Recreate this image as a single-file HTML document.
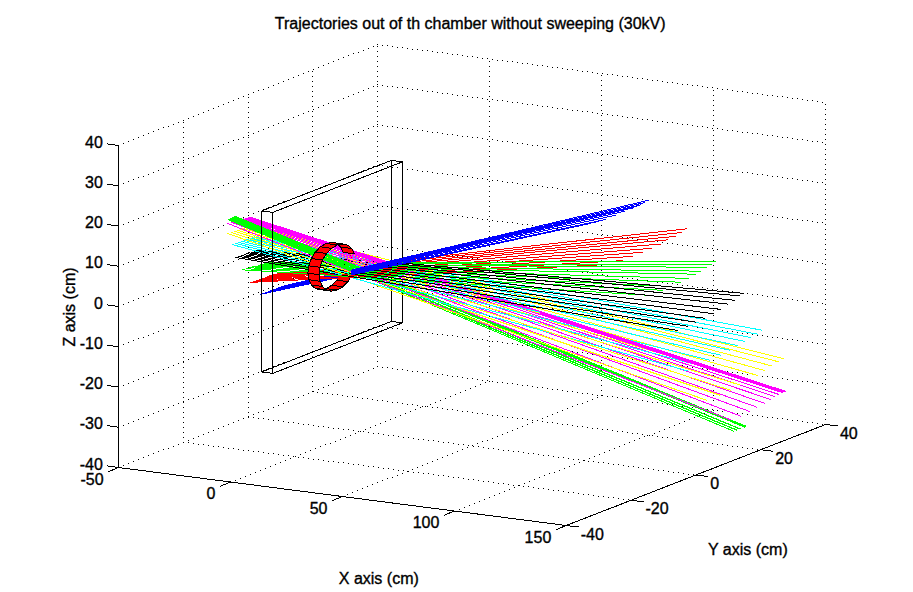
<!DOCTYPE html>
<html><head><meta charset="utf-8"><title>Trajectories</title>
<style>
html,body{margin:0;padding:0;background:#fff;}
body{width:913px;height:592px;overflow:hidden;}
svg{display:block;}
.dots{stroke:#000;stroke-width:1;fill:none;shape-rendering:crispEdges;}
.ax line{stroke:#000;stroke-width:1;shape-rendering:crispEdges;}
.tr line{stroke-width:1;shape-rendering:crispEdges;}
.ring polygon{fill:#ff0000;stroke:#000;stroke-width:1;shape-rendering:crispEdges;stroke-linejoin:round;}
.tx text{font-family:"Liberation Sans",sans-serif;font-size:16px;fill:#000;stroke:#000;stroke-width:0.35px;}
</style></head><body>
<svg width="913" height="592" viewBox="0 0 913 592">
<rect width="913" height="592" fill="#fff"/>
<g>
<g class="grid">
<path class="dots" d="M118 145.5h1M118 147.5h1M118 152.5h1M118 157.5h1M118 162.5h1M118 167.5h1M118 172.5h1M118 177.5h1M118 182.5h1M118 185.5h1M118 187.5h1M118 192.5h1M118 197.5h1M118 202.5h1M118 207.5h1M118 212.5h1M118 217.5h1M118 222.5h1M118 225.5h1M118 227.5h1M118 232.5h1M118 237.5h1M118 242.5h1M118 247.5h1M118 252.5h1M118 257.5h1M118 262.5h1M118 266.5h1M118 267.5h1M118 272.5h1M118 277.5h1M118 282.5h1M118 287.5h1M118 292.5h1M118 297.5h1M118 302.5h1M118 306.5h1M118 307.5h1M118 312.5h1M118 317.5h1M118 322.5h1M118 327.5h1M118 332.5h1M118 337.5h1M118 342.5h1M118 346.5h1M118 347.5h1M118 352.5h1M118 357.5h1M118 362.5h1M118 367.5h1M118 372.5h1M118 377.5h1M118 382.5h1M118 387.5h1M118 392.5h1M118 397.5h1M118 402.5h1M118 407.5h1M118 412.5h1M118 417.5h1M118 422.5h1M118 427.5h1M118 432.5h1M118 437.5h1M118 442.5h1M118 447.5h1M118 452.5h1M118 457.5h1M118 462.5h1M118 467.5h1M123 143.5h1M123 183.5h1M123 224.5h1M123 264.5h1M123 304.5h1M123 344.5h1M123 385.5h1M123 425.5h1M123 465.5h1M123 468.5h1M128 141.5h1M128 181.5h1M128 222.5h1M128 262.5h1M128 302.5h1M128 342.5h1M128 383.5h1M128 423.5h1M128 463.5h1M128 468.5h1M133 139.5h1M133 179.5h1M133 220.5h1M133 260.5h1M133 300.5h1M133 340.5h1M133 381.5h1M133 421.5h1M133 461.5h1M133 469.5h1M138 137.5h1M138 177.5h1M138 218.5h1M138 258.5h1M138 298.5h1M138 338.5h1M138 379.5h1M138 419.5h1M138 459.5h1M138 470.5h1M143 135.5h1M143 176.5h1M143 216.5h1M143 256.5h1M143 296.5h1M143 337.5h1M143 377.5h1M143 417.5h1M143 457.5h1M143 470.5h1M148 133.5h1M148 174.5h1M148 214.5h1M148 254.5h1M148 294.5h1M148 335.5h1M148 375.5h1M148 415.5h1M148 455.5h1M148 471.5h1M153 131.5h1M153 172.5h1M153 212.5h1M153 252.5h1M153 292.5h1M153 333.5h1M153 373.5h1M153 413.5h1M153 453.5h1M153 472.5h1M158 129.5h1M158 170.5h1M158 210.5h1M158 250.5h1M158 290.5h1M158 331.5h1M158 371.5h1M158 411.5h1M158 451.5h1M158 472.5h1M163 127.5h1M163 168.5h1M163 208.5h1M163 248.5h1M163 288.5h1M163 329.5h1M163 369.5h1M163 409.5h1M163 449.5h1M163 473.5h1M168 126.5h1M168 166.5h1M168 206.5h1M168 246.5h1M168 287.5h1M168 327.5h1M168 367.5h1M168 407.5h1M168 448.5h1M168 473.5h1M173 124.5h1M173 164.5h1M173 204.5h1M173 244.5h1M173 285.5h1M173 325.5h1M173 365.5h1M173 405.5h1M173 446.5h1M173 474.5h1M178 122.5h1M178 162.5h1M178 202.5h1M178 242.5h1M178 283.5h1M178 323.5h1M178 363.5h1M178 403.5h1M178 444.5h1M178 475.5h1M183 120.5h1M183 122.5h1M183 127.5h1M183 132.5h1M183 137.5h1M183 142.5h1M183 147.5h1M183 152.5h1M183 157.5h1M183 160.5h1M183 162.5h1M183 167.5h1M183 172.5h1M183 177.5h1M183 182.5h1M183 187.5h1M183 192.5h1M183 197.5h1M183 200.5h1M183 202.5h1M183 207.5h1M183 212.5h1M183 217.5h1M183 222.5h1M183 227.5h1M183 232.5h1M183 237.5h1M183 240.5h1M183 242.5h1M183 247.5h1M183 252.5h1M183 257.5h1M183 262.5h1M183 267.5h1M183 272.5h1M183 277.5h1M183 281.5h1M183 282.5h1M183 287.5h1M183 292.5h1M183 297.5h1M183 302.5h1M183 307.5h1M183 312.5h1M183 317.5h1M183 321.5h1M183 322.5h1M183 327.5h1M183 332.5h1M183 337.5h1M183 342.5h1M183 347.5h1M183 352.5h1M183 357.5h1M183 361.5h1M183 362.5h1M183 367.5h1M183 372.5h1M183 377.5h1M183 382.5h1M183 387.5h1M183 392.5h1M183 397.5h1M183 401.5h1M183 402.5h1M183 407.5h1M183 412.5h1M183 417.5h1M183 422.5h1M183 427.5h1M183 432.5h1M183 437.5h1M183 442.5h1M183 475.5h1M188 118.5h1M188 158.5h1M188 198.5h1M188 238.5h1M188 279.5h1M188 319.5h1M188 359.5h1M188 399.5h1M188 440.5h1M188 442.5h1M188 476.5h1M193 116.5h1M193 156.5h1M193 196.5h1M193 237.5h1M193 277.5h1M193 317.5h1M193 357.5h1M193 398.5h1M193 438.5h1M193 443.5h1M193 477.5h1M198 114.5h1M198 154.5h1M198 194.5h1M198 235.5h1M198 275.5h1M198 315.5h1M198 355.5h1M198 396.5h1M198 436.5h1M198 444.5h1M198 477.5h1M203 112.5h1M203 152.5h1M203 192.5h1M203 233.5h1M203 273.5h1M203 313.5h1M203 353.5h1M203 394.5h1M203 434.5h1M203 444.5h1M203 478.5h1M208 110.5h1M208 150.5h1M208 190.5h1M208 231.5h1M208 271.5h1M208 311.5h1M208 351.5h1M208 392.5h1M208 432.5h1M208 445.5h1M208 479.5h1M213 108.5h1M213 148.5h1M213 188.5h1M213 229.5h1M213 269.5h1M213 309.5h1M213 349.5h1M213 390.5h1M213 430.5h1M213 446.5h1M213 479.5h1M218 106.5h1M218 146.5h1M218 187.5h1M218 227.5h1M218 267.5h1M218 307.5h1M218 348.5h1M218 388.5h1M218 428.5h1M218 446.5h1M218 480.5h1M223 104.5h1M223 144.5h1M223 185.5h1M223 225.5h1M223 265.5h1M223 305.5h1M223 346.5h1M223 386.5h1M223 426.5h1M223 447.5h1M223 481.5h1M228 102.5h1M228 142.5h1M228 183.5h1M228 223.5h1M228 263.5h1M228 303.5h1M228 344.5h1M228 384.5h1M228 424.5h1M228 448.5h1M228 481.5h1M230 482.5h1M233 100.5h1M233 140.5h1M233 181.5h1M233 221.5h1M233 261.5h1M233 301.5h1M233 342.5h1M233 382.5h1M233 422.5h1M233 448.5h1M233 482.5h1M235 480.5h1M238 98.5h1M238 139.5h1M238 179.5h1M238 219.5h1M238 259.5h1M238 300.5h1M238 340.5h1M238 380.5h1M238 420.5h1M238 449.5h1M238 483.5h1M240 478.5h1M243 96.5h1M243 137.5h1M243 177.5h1M243 217.5h1M243 257.5h1M243 298.5h1M243 338.5h1M243 378.5h1M243 418.5h1M243 450.5h1M243 483.5h1M245 476.5h1M248 94.5h1M248 97.5h1M248 102.5h1M248 107.5h1M248 112.5h1M248 117.5h1M248 122.5h1M248 127.5h1M248 132.5h1M248 135.5h1M248 137.5h1M248 142.5h1M248 147.5h1M248 152.5h1M248 157.5h1M248 162.5h1M248 167.5h1M248 172.5h1M248 175.5h1M248 177.5h1M248 182.5h1M248 187.5h1M248 192.5h1M248 197.5h1M248 202.5h1M248 207.5h1M248 212.5h1M248 215.5h1M248 217.5h1M248 222.5h1M248 227.5h1M248 232.5h1M248 237.5h1M248 242.5h1M248 247.5h1M248 252.5h1M248 255.5h1M248 257.5h1M248 262.5h1M248 267.5h1M248 272.5h1M248 277.5h1M248 282.5h1M248 287.5h1M248 292.5h1M248 296.5h1M248 297.5h1M248 302.5h1M248 307.5h1M248 312.5h1M248 317.5h1M248 322.5h1M248 327.5h1M248 332.5h1M248 336.5h1M248 337.5h1M248 342.5h1M248 347.5h1M248 352.5h1M248 357.5h1M248 362.5h1M248 367.5h1M248 372.5h1M248 376.5h1M248 377.5h1M248 382.5h1M248 387.5h1M248 392.5h1M248 397.5h1M248 402.5h1M248 407.5h1M248 412.5h1M248 416.5h1M248 417.5h1M248 450.5h1M248 484.5h1M250 474.5h1M253 92.5h1M253 133.5h1M253 173.5h1M253 213.5h1M253 253.5h1M253 294.5h1M253 334.5h1M253 374.5h1M253 414.5h1M253 417.5h1M253 451.5h1M253 484.5h1M255 472.5h1M258 90.5h1M258 131.5h1M258 171.5h1M258 211.5h1M258 251.5h1M258 292.5h1M258 332.5h1M258 372.5h1M258 412.5h1M258 418.5h1M258 451.5h1M258 485.5h1M260 470.5h1M263 89.5h1M263 129.5h1M263 169.5h1M263 209.5h1M263 250.5h1M263 290.5h1M263 330.5h1M263 370.5h1M263 411.5h1M263 418.5h1M263 452.5h1M263 486.5h1M265 468.5h1M268 87.5h1M268 127.5h1M268 167.5h1M268 207.5h1M268 248.5h1M268 288.5h1M268 328.5h1M268 368.5h1M268 409.5h1M268 419.5h1M268 453.5h1M268 486.5h1M270 466.5h1M273 85.5h1M273 125.5h1M273 165.5h1M273 205.5h1M273 246.5h1M273 286.5h1M273 326.5h1M273 366.5h1M273 407.5h1M273 420.5h1M273 453.5h1M273 487.5h1M275 464.5h1M278 83.5h1M278 123.5h1M278 163.5h1M278 203.5h1M278 244.5h1M278 284.5h1M278 324.5h1M278 364.5h1M278 405.5h1M278 420.5h1M278 454.5h1M278 488.5h1M280 462.5h1M283 81.5h1M283 121.5h1M283 161.5h1M283 201.5h1M283 242.5h1M283 282.5h1M283 322.5h1M283 362.5h1M283 403.5h1M283 421.5h1M283 455.5h1M283 488.5h1M285 460.5h1M288 79.5h1M288 119.5h1M288 159.5h1M288 200.5h1M288 240.5h1M288 280.5h1M288 320.5h1M288 361.5h1M288 401.5h1M288 422.5h1M288 455.5h1M288 489.5h1M290 458.5h1M293 77.5h1M293 117.5h1M293 157.5h1M293 198.5h1M293 238.5h1M293 278.5h1M293 318.5h1M293 359.5h1M293 399.5h1M293 422.5h1M293 456.5h1M293 490.5h1M295 456.5h1M298 75.5h1M298 115.5h1M298 155.5h1M298 196.5h1M298 236.5h1M298 276.5h1M298 316.5h1M298 357.5h1M298 397.5h1M298 423.5h1M298 457.5h1M298 490.5h1M300 454.5h1M303 73.5h1M303 113.5h1M303 153.5h1M303 194.5h1M303 234.5h1M303 274.5h1M303 314.5h1M303 355.5h1M303 395.5h1M303 424.5h1M303 457.5h1M303 491.5h1M305 452.5h1M308 71.5h1M308 111.5h1M308 151.5h1M308 192.5h1M308 232.5h1M308 272.5h1M308 312.5h1M308 353.5h1M308 393.5h1M308 424.5h1M308 458.5h1M308 492.5h1M310 450.5h1M312 71.5h1M312 76.5h1M312 81.5h1M312 86.5h1M312 91.5h1M312 96.5h1M312 101.5h1M312 106.5h1M312 111.5h1M312 116.5h1M312 121.5h1M312 126.5h1M312 131.5h1M312 136.5h1M312 141.5h1M312 146.5h1M312 151.5h1M312 156.5h1M312 161.5h1M312 166.5h1M312 171.5h1M312 176.5h1M312 181.5h1M312 186.5h1M312 191.5h1M312 196.5h1M312 201.5h1M312 206.5h1M312 211.5h1M312 216.5h1M312 221.5h1M312 226.5h1M312 231.5h1M312 236.5h1M312 241.5h1M312 246.5h1M312 251.5h1M312 256.5h1M312 261.5h1M312 266.5h1M312 271.5h1M312 276.5h1M312 281.5h1M312 286.5h1M312 291.5h1M312 296.5h1M312 301.5h1M312 306.5h1M312 311.5h1M312 316.5h1M312 321.5h1M312 326.5h1M312 331.5h1M312 336.5h1M312 341.5h1M312 346.5h1M312 351.5h1M312 356.5h1M312 361.5h1M312 366.5h1M312 371.5h1M312 376.5h1M312 381.5h1M312 386.5h1M312 391.5h1M313 69.5h1M313 109.5h1M313 150.5h1M313 190.5h1M313 230.5h1M313 270.5h1M313 311.5h1M313 351.5h1M313 391.5h1M313 425.5h1M313 459.5h1M313 492.5h1M315 448.5h1M317 392.5h1M318 67.5h1M318 107.5h1M318 148.5h1M318 188.5h1M318 228.5h1M318 268.5h1M318 309.5h1M318 349.5h1M318 389.5h1M318 426.5h1M318 459.5h1M318 493.5h1M320 446.5h1M322 393.5h1M323 65.5h1M323 105.5h1M323 146.5h1M323 186.5h1M323 226.5h1M323 266.5h1M323 307.5h1M323 347.5h1M323 387.5h1M323 426.5h1M323 460.5h1M323 494.5h1M325 444.5h1M327 393.5h1M328 63.5h1M328 103.5h1M328 144.5h1M328 184.5h1M328 224.5h1M328 264.5h1M328 305.5h1M328 345.5h1M328 385.5h1M328 427.5h1M328 461.5h1M328 494.5h1M330 443.5h1M332 394.5h1M333 61.5h1M333 101.5h1M333 142.5h1M333 182.5h1M333 222.5h1M333 262.5h1M333 303.5h1M333 343.5h1M333 383.5h1M333 428.5h1M333 461.5h1M333 495.5h1M335 441.5h1M337 394.5h1M338 59.5h1M338 100.5h1M338 140.5h1M338 180.5h1M338 220.5h1M338 261.5h1M338 301.5h1M338 341.5h1M338 381.5h1M338 428.5h1M338 462.5h1M338 496.5h1M340 439.5h1M342 395.5h1M342 496.5h1M343 57.5h1M343 98.5h1M343 138.5h1M343 178.5h1M343 218.5h1M343 259.5h1M343 299.5h1M343 339.5h1M343 379.5h1M343 429.5h1M343 462.5h1M343 496.5h1M345 437.5h1M347 396.5h1M347 494.5h1M348 55.5h1M348 96.5h1M348 136.5h1M348 176.5h1M348 216.5h1M348 257.5h1M348 297.5h1M348 337.5h1M348 377.5h1M348 429.5h1M348 463.5h1M348 497.5h1M350 435.5h1M352 396.5h1M352 492.5h1M353 53.5h1M353 94.5h1M353 134.5h1M353 174.5h1M353 214.5h1M353 255.5h1M353 295.5h1M353 335.5h1M353 375.5h1M353 430.5h1M353 464.5h1M353 497.5h1M355 433.5h1M357 397.5h1M357 490.5h1M358 52.5h1M358 92.5h1M358 132.5h1M358 172.5h1M358 213.5h1M358 253.5h1M358 293.5h1M358 333.5h1M358 374.5h1M358 431.5h1M358 464.5h1M358 498.5h1M360 431.5h1M362 398.5h1M362 488.5h1M363 50.5h1M363 90.5h1M363 130.5h1M363 170.5h1M363 211.5h1M363 251.5h1M363 291.5h1M363 331.5h1M363 372.5h1M363 431.5h1M363 465.5h1M363 499.5h1M365 429.5h1M367 398.5h1M367 486.5h1M368 48.5h1M368 88.5h1M368 128.5h1M368 168.5h1M368 209.5h1M368 249.5h1M368 289.5h1M368 329.5h1M368 370.5h1M368 432.5h1M368 466.5h1M368 499.5h1M370 427.5h1M372 399.5h1M372 484.5h1M373 46.5h1M373 86.5h1M373 126.5h1M373 166.5h1M373 207.5h1M373 247.5h1M373 287.5h1M373 327.5h1M373 368.5h1M373 433.5h1M373 466.5h1M373 500.5h1M375 425.5h1M377 44.5h1M377 46.5h1M377 51.5h1M377 56.5h1M377 61.5h1M377 66.5h1M377 71.5h1M377 76.5h1M377 81.5h1M377 84.5h1M377 86.5h1M377 91.5h1M377 96.5h1M377 101.5h1M377 106.5h1M377 111.5h1M377 116.5h1M377 121.5h1M377 124.5h1M377 126.5h1M377 131.5h1M377 136.5h1M377 141.5h1M377 146.5h1M377 151.5h1M377 156.5h1M377 161.5h1M377 165.5h1M377 166.5h1M377 171.5h1M377 176.5h1M377 181.5h1M377 186.5h1M377 191.5h1M377 196.5h1M377 201.5h1M377 205.5h1M377 206.5h1M377 211.5h1M377 216.5h1M377 221.5h1M377 226.5h1M377 231.5h1M377 236.5h1M377 241.5h1M377 245.5h1M377 246.5h1M377 251.5h1M377 256.5h1M377 261.5h1M377 266.5h1M377 271.5h1M377 276.5h1M377 281.5h1M377 286.5h1M377 291.5h1M377 296.5h1M377 301.5h1M377 306.5h1M377 311.5h1M377 316.5h1M377 321.5h1M377 326.5h1M377 331.5h1M377 336.5h1M377 341.5h1M377 346.5h1M377 351.5h1M377 356.5h1M377 361.5h1M377 366.5h1M377 400.5h1M377 482.5h1M378 433.5h1M378 467.5h1M378 501.5h1M380 423.5h1M382 45.5h1M382 85.5h1M382 125.5h1M382 165.5h1M382 206.5h1M382 246.5h1M382 286.5h1M382 326.5h1M382 367.5h1M382 400.5h1M382 480.5h1M383 434.5h1M383 468.5h1M383 501.5h1M385 421.5h1M387 45.5h1M387 86.5h1M387 126.5h1M387 166.5h1M387 206.5h1M387 247.5h1M387 287.5h1M387 327.5h1M387 367.5h1M387 401.5h1M387 478.5h1M388 435.5h1M388 468.5h1M388 502.5h1M390 419.5h1M392 46.5h1M392 86.5h1M392 126.5h1M392 167.5h1M392 207.5h1M392 247.5h1M392 287.5h1M392 328.5h1M392 368.5h1M392 402.5h1M392 477.5h1M393 435.5h1M393 469.5h1M393 503.5h1M395 417.5h1M397 47.5h1M397 87.5h1M397 127.5h1M397 167.5h1M397 208.5h1M397 248.5h1M397 288.5h1M397 328.5h1M397 369.5h1M397 402.5h1M397 475.5h1M398 436.5h1M398 470.5h1M398 503.5h1M400 415.5h1M402 47.5h1M402 87.5h1M402 128.5h1M402 168.5h1M402 208.5h1M402 248.5h1M402 289.5h1M402 329.5h1M402 369.5h1M402 403.5h1M402 473.5h1M403 437.5h1M403 470.5h1M403 504.5h1M405 413.5h1M407 48.5h1M407 88.5h1M407 128.5h1M407 169.5h1M407 209.5h1M407 249.5h1M407 289.5h1M407 330.5h1M407 370.5h1M407 404.5h1M407 471.5h1M408 437.5h1M408 471.5h1M408 505.5h1M410 411.5h1M412 49.5h1M412 89.5h1M412 129.5h1M412 169.5h1M412 210.5h1M412 250.5h1M412 290.5h1M412 330.5h1M412 371.5h1M412 404.5h1M412 469.5h1M413 438.5h1M413 472.5h1M413 505.5h1M415 409.5h1M417 49.5h1M417 89.5h1M417 130.5h1M417 170.5h1M417 210.5h1M417 250.5h1M417 291.5h1M417 331.5h1M417 371.5h1M417 405.5h1M417 467.5h1M418 439.5h1M418 472.5h1M418 506.5h1M420 407.5h1M422 50.5h1M422 90.5h1M422 130.5h1M422 171.5h1M422 211.5h1M422 251.5h1M422 291.5h1M422 332.5h1M422 372.5h1M422 406.5h1M422 465.5h1M423 439.5h1M423 473.5h1M423 507.5h1M425 406.5h1M427 50.5h1M427 91.5h1M427 131.5h1M427 171.5h1M427 211.5h1M427 252.5h1M427 292.5h1M427 332.5h1M427 372.5h1M427 406.5h1M427 463.5h1M428 440.5h1M428 473.5h1M428 507.5h1M430 404.5h1M432 51.5h1M432 91.5h1M432 132.5h1M432 172.5h1M432 212.5h1M432 252.5h1M432 293.5h1M432 333.5h1M432 373.5h1M432 407.5h1M432 461.5h1M433 440.5h1M433 474.5h1M433 508.5h1M435 402.5h1M437 52.5h1M437 92.5h1M437 132.5h1M437 173.5h1M437 213.5h1M437 253.5h1M437 293.5h1M437 334.5h1M437 374.5h1M437 407.5h1M437 459.5h1M438 441.5h1M438 475.5h1M438 508.5h1M440 400.5h1M442 52.5h1M442 93.5h1M442 133.5h1M442 173.5h1M442 213.5h1M442 254.5h1M442 294.5h1M442 334.5h1M442 374.5h1M442 408.5h1M442 457.5h1M443 442.5h1M443 475.5h1M443 509.5h1M445 398.5h1M447 53.5h1M447 93.5h1M447 134.5h1M447 174.5h1M447 214.5h1M447 254.5h1M447 295.5h1M447 335.5h1M447 375.5h1M447 409.5h1M447 455.5h1M448 442.5h1M448 476.5h1M448 510.5h1M450 396.5h1M452 54.5h1M452 94.5h1M452 134.5h1M452 174.5h1M452 215.5h1M452 255.5h1M452 295.5h1M452 335.5h1M452 376.5h1M452 409.5h1M452 453.5h1M453 443.5h1M453 477.5h1M453 510.5h1M454 511.5h1M455 394.5h1M457 54.5h1M457 95.5h1M457 135.5h1M457 175.5h1M457 215.5h1M457 256.5h1M457 296.5h1M457 336.5h1M457 376.5h1M457 410.5h1M457 451.5h1M458 444.5h1M458 477.5h1M458 511.5h1M459 509.5h1M460 392.5h1M462 55.5h1M462 95.5h1M462 136.5h1M462 176.5h1M462 216.5h1M462 256.5h1M462 297.5h1M462 337.5h1M462 377.5h1M462 411.5h1M462 449.5h1M463 444.5h1M463 478.5h1M463 512.5h1M464 507.5h1M465 390.5h1M467 56.5h1M467 96.5h1M467 136.5h1M467 176.5h1M467 217.5h1M467 257.5h1M467 297.5h1M467 337.5h1M467 378.5h1M467 411.5h1M467 447.5h1M468 445.5h1M468 479.5h1M468 512.5h1M469 505.5h1M470 388.5h1M472 56.5h1M472 97.5h1M472 137.5h1M472 177.5h1M472 217.5h1M472 258.5h1M472 298.5h1M472 338.5h1M472 378.5h1M472 412.5h1M472 445.5h1M473 446.5h1M473 479.5h1M473 513.5h1M474 503.5h1M475 386.5h1M477 57.5h1M477 97.5h1M477 137.5h1M477 178.5h1M477 218.5h1M477 258.5h1M477 298.5h1M477 339.5h1M477 379.5h1M477 413.5h1M477 443.5h1M478 446.5h1M478 480.5h1M478 514.5h1M479 501.5h1M480 384.5h1M482 58.5h1M482 98.5h1M482 138.5h1M482 178.5h1M482 219.5h1M482 259.5h1M482 299.5h1M482 339.5h1M482 380.5h1M482 413.5h1M482 441.5h1M483 447.5h1M483 481.5h1M483 514.5h1M484 499.5h1M485 382.5h1M487 58.5h1M487 99.5h1M487 139.5h1M487 179.5h1M487 219.5h1M487 260.5h1M487 300.5h1M487 340.5h1M487 380.5h1M487 414.5h1M487 440.5h1M488 448.5h1M488 481.5h1M488 515.5h1M489 61.5h1M489 66.5h1M489 71.5h1M489 76.5h1M489 81.5h1M489 86.5h1M489 91.5h1M489 96.5h1M489 101.5h1M489 106.5h1M489 111.5h1M489 116.5h1M489 121.5h1M489 126.5h1M489 131.5h1M489 136.5h1M489 141.5h1M489 146.5h1M489 151.5h1M489 156.5h1M489 161.5h1M489 166.5h1M489 171.5h1M489 176.5h1M489 181.5h1M489 186.5h1M489 191.5h1M489 196.5h1M489 201.5h1M489 206.5h1M489 211.5h1M489 216.5h1M489 221.5h1M489 226.5h1M489 231.5h1M489 236.5h1M489 241.5h1M489 246.5h1M489 251.5h1M489 256.5h1M489 261.5h1M489 266.5h1M489 271.5h1M489 276.5h1M489 281.5h1M489 286.5h1M489 291.5h1M489 296.5h1M489 301.5h1M489 306.5h1M489 311.5h1M489 316.5h1M489 321.5h1M489 326.5h1M489 331.5h1M489 336.5h1M489 341.5h1M489 346.5h1M489 351.5h1M489 356.5h1M489 361.5h1M489 366.5h1M489 371.5h1M489 376.5h1M489 381.5h1M489 497.5h1M492 59.5h1M492 99.5h1M492 139.5h1M492 180.5h1M492 220.5h1M492 260.5h1M492 300.5h1M492 341.5h1M492 381.5h1M492 415.5h1M492 438.5h1M493 448.5h1M493 482.5h1M493 516.5h1M494 495.5h1M497 60.5h1M497 100.5h1M497 140.5h1M497 180.5h1M497 221.5h1M497 261.5h1M497 301.5h1M497 341.5h1M497 382.5h1M497 415.5h1M497 436.5h1M498 449.5h1M498 483.5h1M498 516.5h1M499 493.5h1M502 60.5h1M502 100.5h1M502 141.5h1M502 181.5h1M502 221.5h1M502 261.5h1M502 302.5h1M502 342.5h1M502 382.5h1M502 416.5h1M502 434.5h1M503 450.5h1M503 483.5h1M503 517.5h1M504 491.5h1M507 61.5h1M507 101.5h1M507 141.5h1M507 182.5h1M507 222.5h1M507 262.5h1M507 302.5h1M507 343.5h1M507 383.5h1M507 417.5h1M507 432.5h1M508 450.5h1M508 484.5h1M508 518.5h1M509 489.5h1M512 61.5h1M512 102.5h1M512 142.5h1M512 182.5h1M512 222.5h1M512 263.5h1M512 303.5h1M512 343.5h1M512 383.5h1M512 417.5h1M512 430.5h1M513 451.5h1M513 485.5h1M513 518.5h1M514 487.5h1M517 62.5h1M517 102.5h1M517 143.5h1M517 183.5h1M517 223.5h1M517 263.5h1M517 304.5h1M517 344.5h1M517 384.5h1M517 418.5h1M517 428.5h1M518 451.5h1M518 485.5h1M518 519.5h1M519 485.5h1M522 63.5h1M522 103.5h1M522 143.5h1M522 184.5h1M522 224.5h1M522 264.5h1M522 304.5h1M522 345.5h1M522 385.5h1M522 418.5h1M522 426.5h1M523 452.5h1M523 486.5h1M523 519.5h1M524 483.5h1M527 63.5h1M527 104.5h1M527 144.5h1M527 184.5h1M527 224.5h1M527 265.5h1M527 305.5h1M527 345.5h1M527 385.5h1M527 419.5h1M527 424.5h1M528 453.5h1M528 486.5h1M528 520.5h1M529 481.5h1M532 64.5h1M532 104.5h1M532 145.5h1M532 185.5h1M532 225.5h1M532 265.5h1M532 306.5h1M532 346.5h1M532 386.5h1M532 420.5h1M532 422.5h1M533 453.5h1M533 487.5h1M533 521.5h1M534 479.5h1M537 65.5h1M537 105.5h1M537 145.5h1M537 185.5h1M537 226.5h1M537 266.5h1M537 306.5h1M537 346.5h1M537 387.5h1M537 420.5h1M538 454.5h1M538 488.5h1M538 521.5h1M539 477.5h1M542 65.5h1M542 106.5h1M542 146.5h1M542 186.5h1M542 226.5h1M542 267.5h1M542 307.5h1M542 347.5h1M542 387.5h1M542 418.5h1M542 421.5h1M543 455.5h1M543 488.5h1M543 522.5h1M544 475.5h1M547 66.5h1M547 106.5h1M547 147.5h1M547 187.5h1M547 227.5h1M547 267.5h1M547 308.5h1M547 348.5h1M547 388.5h1M547 416.5h1M547 422.5h1M548 455.5h1M548 489.5h1M548 523.5h1M549 473.5h1M552 67.5h1M552 107.5h1M552 147.5h1M552 187.5h1M552 228.5h1M552 268.5h1M552 308.5h1M552 348.5h1M552 389.5h1M552 414.5h1M552 422.5h1M553 456.5h1M553 490.5h1M553 523.5h1M554 472.5h1M557 67.5h1M557 108.5h1M557 148.5h1M557 188.5h1M557 228.5h1M557 269.5h1M557 309.5h1M557 349.5h1M557 389.5h1M557 412.5h1M557 423.5h1M558 457.5h1M558 490.5h1M558 524.5h1M559 470.5h1M562 68.5h1M562 108.5h1M562 148.5h1M562 189.5h1M562 229.5h1M562 269.5h1M562 309.5h1M562 350.5h1M562 390.5h1M562 410.5h1M562 424.5h1M563 457.5h1M563 491.5h1M563 525.5h1M564 468.5h1M566 525.5h1M567 69.5h1M567 109.5h1M567 149.5h1M567 189.5h1M567 230.5h1M567 270.5h1M567 310.5h1M567 350.5h1M567 391.5h1M567 408.5h1M567 424.5h1M568 458.5h1M568 492.5h1M569 466.5h1M571 523.5h1M572 69.5h1M572 110.5h1M572 150.5h1M572 190.5h1M572 230.5h1M572 271.5h1M572 311.5h1M572 351.5h1M572 391.5h1M572 406.5h1M572 425.5h1M573 459.5h1M573 492.5h1M574 464.5h1M576 521.5h1M577 70.5h1M577 110.5h1M577 150.5h1M577 191.5h1M577 231.5h1M577 271.5h1M577 311.5h1M577 352.5h1M577 392.5h1M577 404.5h1M577 426.5h1M578 459.5h1M578 493.5h1M579 462.5h1M581 519.5h1M582 71.5h1M582 111.5h1M582 151.5h1M582 191.5h1M582 232.5h1M582 272.5h1M582 312.5h1M582 352.5h1M582 393.5h1M582 403.5h1M582 426.5h1M583 460.5h1M583 494.5h1M584 460.5h1M586 517.5h1M587 71.5h1M587 111.5h1M587 152.5h1M587 192.5h1M587 232.5h1M587 272.5h1M587 313.5h1M587 353.5h1M587 393.5h1M587 401.5h1M587 427.5h1M588 461.5h1M588 494.5h1M589 458.5h1M591 515.5h1M592 72.5h1M592 112.5h1M592 152.5h1M592 193.5h1M592 233.5h1M592 273.5h1M592 313.5h1M592 354.5h1M592 394.5h1M592 399.5h1M592 428.5h1M593 461.5h1M593 495.5h1M594 456.5h1M596 513.5h1M597 73.5h1M597 113.5h1M597 153.5h1M597 193.5h1M597 234.5h1M597 274.5h1M597 314.5h1M597 354.5h1M597 395.5h1M597 397.5h1M597 428.5h1M598 462.5h1M598 496.5h1M599 454.5h1M601 75.5h1M601 80.5h1M601 85.5h1M601 90.5h1M601 95.5h1M601 100.5h1M601 105.5h1M601 110.5h1M601 115.5h1M601 120.5h1M601 125.5h1M601 130.5h1M601 135.5h1M601 140.5h1M601 145.5h1M601 150.5h1M601 155.5h1M601 160.5h1M601 165.5h1M601 170.5h1M601 175.5h1M601 180.5h1M601 185.5h1M601 190.5h1M601 195.5h1M601 200.5h1M601 205.5h1M601 210.5h1M601 215.5h1M601 220.5h1M601 225.5h1M601 230.5h1M601 235.5h1M601 240.5h1M601 245.5h1M601 250.5h1M601 255.5h1M601 260.5h1M601 265.5h1M601 270.5h1M601 275.5h1M601 280.5h1M601 285.5h1M601 290.5h1M601 295.5h1M601 300.5h1M601 305.5h1M601 310.5h1M601 315.5h1M601 320.5h1M601 325.5h1M601 330.5h1M601 335.5h1M601 340.5h1M601 345.5h1M601 350.5h1M601 355.5h1M601 360.5h1M601 365.5h1M601 370.5h1M601 375.5h1M601 380.5h1M601 385.5h1M601 390.5h1M601 395.5h1M601 511.5h1M602 73.5h1M602 113.5h1M602 154.5h1M602 194.5h1M602 234.5h1M602 274.5h1M602 315.5h1M602 355.5h1M602 395.5h1M602 429.5h1M603 462.5h1M603 496.5h1M604 452.5h1M606 509.5h1M607 74.5h1M607 114.5h1M607 154.5h1M607 195.5h1M607 235.5h1M607 275.5h1M607 315.5h1M607 356.5h1M607 396.5h1M607 429.5h1M608 463.5h1M608 497.5h1M609 450.5h1M611 507.5h1M612 74.5h1M612 115.5h1M612 155.5h1M612 195.5h1M612 235.5h1M612 276.5h1M612 316.5h1M612 356.5h1M612 396.5h1M612 430.5h1M613 464.5h1M613 497.5h1M614 448.5h1M616 506.5h1M617 75.5h1M617 115.5h1M617 156.5h1M617 196.5h1M617 236.5h1M617 276.5h1M617 317.5h1M617 357.5h1M617 397.5h1M617 431.5h1M618 464.5h1M618 498.5h1M619 446.5h1M621 504.5h1M622 76.5h1M622 116.5h1M622 156.5h1M622 196.5h1M622 237.5h1M622 277.5h1M622 317.5h1M622 357.5h1M622 398.5h1M622 431.5h1M623 465.5h1M623 499.5h1M624 444.5h1M626 502.5h1M627 76.5h1M627 117.5h1M627 157.5h1M627 197.5h1M627 237.5h1M627 278.5h1M627 318.5h1M627 358.5h1M627 398.5h1M627 432.5h1M628 466.5h1M628 499.5h1M629 442.5h1M631 500.5h1M632 77.5h1M632 117.5h1M632 158.5h1M632 198.5h1M632 238.5h1M632 278.5h1M632 319.5h1M632 359.5h1M632 399.5h1M632 433.5h1M633 466.5h1M634 440.5h1M636 498.5h1M637 78.5h1M637 118.5h1M637 158.5h1M637 198.5h1M637 239.5h1M637 279.5h1M637 319.5h1M637 359.5h1M637 400.5h1M637 433.5h1M638 467.5h1M639 438.5h1M641 496.5h1M642 78.5h1M642 119.5h1M642 159.5h1M642 199.5h1M642 239.5h1M642 280.5h1M642 320.5h1M642 360.5h1M642 400.5h1M642 434.5h1M643 468.5h1M644 436.5h1M646 494.5h1M647 79.5h1M647 119.5h1M647 159.5h1M647 200.5h1M647 240.5h1M647 280.5h1M647 320.5h1M647 361.5h1M647 401.5h1M647 435.5h1M648 468.5h1M649 435.5h1M651 492.5h1M652 80.5h1M652 120.5h1M652 160.5h1M652 200.5h1M652 241.5h1M652 281.5h1M652 321.5h1M652 361.5h1M652 402.5h1M652 435.5h1M653 469.5h1M654 433.5h1M656 490.5h1M657 80.5h1M657 121.5h1M657 161.5h1M657 201.5h1M657 241.5h1M657 282.5h1M657 322.5h1M657 362.5h1M657 402.5h1M657 436.5h1M658 470.5h1M659 431.5h1M661 488.5h1M662 81.5h1M662 121.5h1M662 161.5h1M662 202.5h1M662 242.5h1M662 282.5h1M662 322.5h1M662 363.5h1M662 403.5h1M662 437.5h1M663 470.5h1M664 429.5h1M666 486.5h1M667 82.5h1M667 122.5h1M667 162.5h1M667 202.5h1M667 243.5h1M667 283.5h1M667 323.5h1M667 363.5h1M667 404.5h1M667 437.5h1M668 471.5h1M669 427.5h1M671 484.5h1M672 82.5h1M672 122.5h1M672 163.5h1M672 203.5h1M672 243.5h1M672 283.5h1M672 324.5h1M672 364.5h1M672 404.5h1M672 438.5h1M673 472.5h1M674 425.5h1M676 482.5h1M677 83.5h1M677 123.5h1M677 163.5h1M677 204.5h1M677 244.5h1M677 284.5h1M677 324.5h1M677 365.5h1M677 405.5h1M677 439.5h1M678 472.5h1M679 423.5h1M681 480.5h1M682 84.5h1M682 124.5h1M682 164.5h1M682 204.5h1M682 245.5h1M682 285.5h1M682 325.5h1M682 365.5h1M682 406.5h1M682 439.5h1M683 473.5h1M684 421.5h1M686 478.5h1M687 84.5h1M687 124.5h1M687 165.5h1M687 205.5h1M687 245.5h1M687 285.5h1M687 326.5h1M687 366.5h1M687 406.5h1M687 440.5h1M688 474.5h1M689 419.5h1M691 476.5h1M692 85.5h1M692 125.5h1M692 165.5h1M692 206.5h1M692 246.5h1M692 286.5h1M692 326.5h1M692 367.5h1M692 407.5h1M692 440.5h1M693 474.5h1M694 417.5h1M696 474.5h1M697 85.5h1M697 126.5h1M697 166.5h1M697 206.5h1M697 246.5h1M697 287.5h1M697 327.5h1M697 367.5h1M697 407.5h1M697 441.5h1M699 415.5h1M701 472.5h1M702 86.5h1M702 126.5h1M702 167.5h1M702 207.5h1M702 247.5h1M702 287.5h1M702 328.5h1M702 368.5h1M702 408.5h1M702 442.5h1M704 413.5h1M706 470.5h1M707 87.5h1M707 127.5h1M707 167.5h1M707 208.5h1M707 248.5h1M707 288.5h1M707 328.5h1M707 369.5h1M707 409.5h1M707 442.5h1M709 411.5h1M711 469.5h1M712 87.5h1M712 128.5h1M712 168.5h1M712 208.5h1M712 248.5h1M712 289.5h1M712 329.5h1M712 369.5h1M712 409.5h1M712 443.5h1M713 90.5h1M713 95.5h1M713 100.5h1M713 105.5h1M713 110.5h1M713 115.5h1M713 120.5h1M713 125.5h1M713 130.5h1M713 135.5h1M713 140.5h1M713 145.5h1M713 150.5h1M713 155.5h1M713 160.5h1M713 165.5h1M713 170.5h1M713 175.5h1M713 180.5h1M713 185.5h1M713 190.5h1M713 195.5h1M713 200.5h1M713 205.5h1M713 210.5h1M713 215.5h1M713 220.5h1M713 225.5h1M713 230.5h1M713 235.5h1M713 240.5h1M713 245.5h1M713 250.5h1M713 255.5h1M713 260.5h1M713 265.5h1M713 270.5h1M713 275.5h1M713 280.5h1M713 285.5h1M713 290.5h1M713 295.5h1M713 300.5h1M713 305.5h1M713 310.5h1M713 315.5h1M713 320.5h1M713 325.5h1M713 330.5h1M713 335.5h1M713 340.5h1M713 345.5h1M713 350.5h1M713 355.5h1M713 360.5h1M713 365.5h1M713 370.5h1M713 375.5h1M713 380.5h1M713 385.5h1M713 390.5h1M713 395.5h1M713 400.5h1M713 405.5h1M713 410.5h1M716 467.5h1M717 88.5h1M717 128.5h1M717 169.5h1M717 209.5h1M717 249.5h1M717 289.5h1M717 330.5h1M717 370.5h1M717 410.5h1M717 444.5h1M721 465.5h1M722 89.5h1M722 129.5h1M722 169.5h1M722 209.5h1M722 250.5h1M722 290.5h1M722 330.5h1M722 370.5h1M722 411.5h1M722 444.5h1M726 463.5h1M727 89.5h1M727 130.5h1M727 170.5h1M727 210.5h1M727 250.5h1M727 291.5h1M727 331.5h1M727 371.5h1M727 411.5h1M727 445.5h1M731 461.5h1M732 90.5h1M732 130.5h1M732 170.5h1M732 211.5h1M732 251.5h1M732 291.5h1M732 331.5h1M732 372.5h1M732 412.5h1M732 446.5h1M736 459.5h1M737 91.5h1M737 131.5h1M737 171.5h1M737 211.5h1M737 252.5h1M737 292.5h1M737 332.5h1M737 372.5h1M737 413.5h1M737 446.5h1M741 457.5h1M742 91.5h1M742 132.5h1M742 172.5h1M742 212.5h1M742 252.5h1M742 293.5h1M742 333.5h1M742 373.5h1M742 413.5h1M742 447.5h1M746 455.5h1M747 92.5h1M747 132.5h1M747 172.5h1M747 213.5h1M747 253.5h1M747 293.5h1M747 333.5h1M747 374.5h1M747 414.5h1M747 448.5h1M751 453.5h1M752 93.5h1M752 133.5h1M752 173.5h1M752 213.5h1M752 254.5h1M752 294.5h1M752 334.5h1M752 374.5h1M752 415.5h1M752 448.5h1M756 451.5h1M757 93.5h1M757 133.5h1M757 174.5h1M757 214.5h1M757 254.5h1M757 294.5h1M757 335.5h1M757 375.5h1M757 415.5h1M757 449.5h1M761 449.5h1M762 94.5h1M762 134.5h1M762 174.5h1M762 215.5h1M762 255.5h1M762 295.5h1M762 335.5h1M762 376.5h1M762 416.5h1M766 447.5h1M767 95.5h1M767 135.5h1M767 175.5h1M767 215.5h1M767 256.5h1M767 296.5h1M767 336.5h1M767 376.5h1M767 417.5h1M771 445.5h1M772 95.5h1M772 135.5h1M772 176.5h1M772 216.5h1M772 256.5h1M772 296.5h1M772 337.5h1M772 377.5h1M772 417.5h1M776 443.5h1M777 96.5h1M777 136.5h1M777 176.5h1M777 217.5h1M777 257.5h1M777 297.5h1M777 337.5h1M777 378.5h1M777 418.5h1M781 441.5h1M782 96.5h1M782 137.5h1M782 177.5h1M782 217.5h1M782 257.5h1M782 298.5h1M782 338.5h1M782 378.5h1M782 418.5h1M786 439.5h1M787 97.5h1M787 137.5h1M787 178.5h1M787 218.5h1M787 258.5h1M787 298.5h1M787 339.5h1M787 379.5h1M787 419.5h1M791 437.5h1M792 98.5h1M792 138.5h1M792 178.5h1M792 219.5h1M792 259.5h1M792 299.5h1M792 339.5h1M792 380.5h1M792 420.5h1M796 435.5h1M797 98.5h1M797 139.5h1M797 179.5h1M797 219.5h1M797 259.5h1M797 300.5h1M797 340.5h1M797 380.5h1M797 420.5h1M801 433.5h1M802 99.5h1M802 139.5h1M802 180.5h1M802 220.5h1M802 260.5h1M802 300.5h1M802 341.5h1M802 381.5h1M802 421.5h1M806 432.5h1M807 100.5h1M807 140.5h1M807 180.5h1M807 220.5h1M807 261.5h1M807 301.5h1M807 341.5h1M807 381.5h1M807 422.5h1M811 430.5h1M812 100.5h1M812 141.5h1M812 181.5h1M812 221.5h1M812 261.5h1M812 302.5h1M812 342.5h1M812 382.5h1M812 422.5h1M816 428.5h1M817 101.5h1M817 141.5h1M817 182.5h1M817 222.5h1M817 262.5h1M817 302.5h1M817 343.5h1M817 383.5h1M817 423.5h1M821 426.5h1M822 102.5h1M822 142.5h1M822 182.5h1M822 222.5h1M822 263.5h1M822 303.5h1M822 343.5h1M822 383.5h1M822 424.5h1M825 104.5h1M825 109.5h1M825 114.5h1M825 119.5h1M825 124.5h1M825 129.5h1M825 134.5h1M825 139.5h1M825 144.5h1M825 149.5h1M825 154.5h1M825 159.5h1M825 164.5h1M825 169.5h1M825 174.5h1M825 179.5h1M825 184.5h1M825 189.5h1M825 194.5h1M825 199.5h1M825 204.5h1M825 209.5h1M825 214.5h1M825 219.5h1M825 224.5h1M825 229.5h1M825 234.5h1M825 239.5h1M825 244.5h1M825 249.5h1M825 254.5h1M825 259.5h1M825 264.5h1M825 269.5h1M825 274.5h1M825 279.5h1M825 284.5h1M825 289.5h1M825 294.5h1M825 299.5h1M825 304.5h1M825 309.5h1M825 314.5h1M825 319.5h1M825 324.5h1M825 329.5h1M825 334.5h1M825 339.5h1M825 344.5h1M825 349.5h1M825 354.5h1M825 359.5h1M825 364.5h1M825 369.5h1M825 374.5h1M825 379.5h1M825 384.5h1M825 389.5h1M825 394.5h1M825 399.5h1M825 404.5h1M825 409.5h1M825 414.5h1M825 419.5h1M825 424.5h1"/>
</g>
<g class="ax">
<line x1="118.5" y1="467.5" x2="118.5" y2="145.5"/>
<line x1="118.5" y1="467.5" x2="566.2" y2="525.5"/>
<line x1="566.2" y1="525.5" x2="825.48" y2="424.5"/>
<line x1="118.5" y1="467.5" x2="107" y2="465.9"/>
<line x1="118.5" y1="427.25" x2="107" y2="425.65"/>
<line x1="118.5" y1="387" x2="107" y2="385.4"/>
<line x1="118.5" y1="346.75" x2="107" y2="345.15"/>
<line x1="118.5" y1="306.5" x2="107" y2="304.9"/>
<line x1="118.5" y1="266.25" x2="107" y2="264.65"/>
<line x1="118.5" y1="226" x2="107" y2="224.4"/>
<line x1="118.5" y1="185.75" x2="107" y2="184.15"/>
<line x1="118.5" y1="145.5" x2="107" y2="143.9"/>
<line x1="118.5" y1="467.5" x2="108" y2="471.9"/>
<line x1="230.43" y1="482" x2="219.93" y2="486.4"/>
<line x1="342.35" y1="496.5" x2="331.85" y2="500.9"/>
<line x1="454.28" y1="511" x2="443.78" y2="515.4"/>
<line x1="566.2" y1="525.5" x2="555.7" y2="529.9"/>
<line x1="566.2" y1="525.5" x2="578.7" y2="527"/>
<line x1="631.02" y1="500.25" x2="643.52" y2="501.75"/>
<line x1="695.84" y1="475" x2="708.34" y2="476.5"/>
<line x1="760.66" y1="449.75" x2="773.16" y2="451.25"/>
<line x1="825.48" y1="424.5" x2="837.98" y2="426"/>
</g>
<g class="ax">
<line x1="391.31" y1="321.4" x2="402.5" y2="322.85"/>
<line x1="391.31" y1="160.4" x2="402.5" y2="161.85"/>
<line x1="391.31" y1="321.4" x2="391.31" y2="160.4"/>
<line x1="402.5" y1="322.85" x2="402.5" y2="161.85"/>
</g>
<g class="tr">
<g stroke="#0000ff">
<line x1="283" y1="286.2" x2="351" y2="270.22"/>
<line x1="281.35" y1="286.8" x2="351" y2="270.65"/>
<line x1="279.67" y1="287.4" x2="351" y2="271.1"/>
<line x1="278.22" y1="287.93" x2="351" y2="271.38"/>
<line x1="276.77" y1="288.45" x2="351" y2="271.67"/>
<line x1="273.3" y1="289.7" x2="351" y2="272.35"/>
<line x1="269.8" y1="290.97" x2="351" y2="273.17"/>
<line x1="265.87" y1="292.39" x2="351" y2="274.12"/>
<line x1="263.08" y1="293.4" x2="351" y2="274.53"/>
<line x1="260.3" y1="294.4" x2="351" y2="274.91"/>
</g>
</g>
<g class="ring">
<polygon points="336.71,280.17 347.9,281.62 351.92,275.07 340.72,273.62"/>
<polygon points="340.72,273.62 351.92,275.07 354.49,267.78 343.3,266.33"/>
<polygon points="331.65,285.34 342.84,286.79 347.9,281.62 336.71,280.17"/>
<polygon points="343.3,266.33 354.49,267.78 355.38,260.47 344.19,259.02"/>
<polygon points="326.04,288.63 337.23,290.08 342.84,286.79 331.65,285.34"/>
<polygon points="344.19,259.02 355.38,260.47 354.49,253.85 343.3,252.4"/>
<polygon points="320.43,289.71 331.62,291.16 337.23,290.08 326.04,288.63"/>
</g>
<g class="tr">
<g stroke="#ff0000">
<line x1="273" y1="274.5" x2="403.28" y2="260.12"/>
<line x1="271.26" y1="275.1" x2="394.26" y2="262.34"/>
<line x1="269.28" y1="275.78" x2="385.51" y2="264.5"/>
<line x1="266.79" y1="276.63" x2="377.54" y2="266.46"/>
<line x1="264.51" y1="277.42" x2="368.75" y2="268.63"/>
<line x1="261.69" y1="278.38" x2="359.89" y2="270.81"/>
<line x1="258.97" y1="279.32" x2="351.9" y2="272.78"/>
<line x1="255.92" y1="280.37" x2="343.79" y2="274.78"/>
<line x1="252.94" y1="281.39" x2="335.86" y2="276.73"/>
<line x1="250" y1="282.4" x2="328.91" y2="278.44"/>
</g>
<g stroke="#00ff00">
<line x1="266" y1="263" x2="393.66" y2="262.49"/>
<line x1="264.27" y1="263.49" x2="388.35" y2="263.8"/>
<line x1="262.29" y1="264.05" x2="383.72" y2="264.94"/>
<line x1="260.07" y1="264.68" x2="377.71" y2="266.42"/>
<line x1="258.01" y1="265.26" x2="372.88" y2="267.61"/>
<line x1="255.23" y1="266.05" x2="366.35" y2="269.22"/>
<line x1="252.24" y1="266.9" x2="360.12" y2="270.75"/>
<line x1="249.06" y1="267.8" x2="353.39" y2="272.41"/>
<line x1="245.78" y1="268.73" x2="347.07" y2="273.97"/>
<line x1="242" y1="269.8" x2="339.22" y2="275.9"/>
</g>
<g stroke="#000000">
<line x1="257" y1="250.2" x2="394.17" y2="262.36"/>
<line x1="255.67" y1="250.64" x2="390.54" y2="263.26"/>
<line x1="253.68" y1="251.29" x2="384.89" y2="264.65"/>
<line x1="251.33" y1="252.06" x2="379.28" y2="266.03"/>
<line x1="248.79" y1="252.89" x2="372.51" y2="267.7"/>
<line x1="246.37" y1="253.68" x2="366.69" y2="269.13"/>
<line x1="243.5" y1="254.62" x2="360.22" y2="270.73"/>
<line x1="240.71" y1="255.53" x2="354.41" y2="272.16"/>
<line x1="238.01" y1="256.41" x2="348.62" y2="273.59"/>
<line x1="235" y1="257.4" x2="342.39" y2="275.12"/>
</g>
<g stroke="#00ffff">
<line x1="253.7" y1="236.8" x2="393.59" y2="262.51"/>
<line x1="252.2" y1="237.33" x2="389.2" y2="263.59"/>
<line x1="250.24" y1="238.03" x2="384.52" y2="264.74"/>
<line x1="248.43" y1="238.68" x2="379.89" y2="265.88"/>
<line x1="246.29" y1="239.44" x2="374.63" y2="267.18"/>
<line x1="244" y1="240.26" x2="369.04" y2="268.56"/>
<line x1="241.33" y1="241.21" x2="362.79" y2="270.1"/>
<line x1="238.38" y1="242.26" x2="356.16" y2="271.73"/>
<line x1="235.35" y1="243.34" x2="349.47" y2="273.38"/>
<line x1="232.1" y1="244.5" x2="342.43" y2="275.11"/>
</g>
<g stroke="#ffff00">
<line x1="250.7" y1="225.6" x2="396.12" y2="261.88"/>
<line x1="249.04" y1="226.14" x2="392.27" y2="262.83"/>
<line x1="246.92" y1="226.83" x2="387.34" y2="264.05"/>
<line x1="244.6" y1="227.58" x2="382.01" y2="265.36"/>
<line x1="242.26" y1="228.34" x2="376.59" y2="266.69"/>
<line x1="239.81" y1="229.14" x2="371.33" y2="267.99"/>
<line x1="236.92" y1="230.08" x2="365.05" y2="269.54"/>
<line x1="234.01" y1="231.02" x2="358.86" y2="271.06"/>
<line x1="230.65" y1="232.11" x2="352.35" y2="272.67"/>
<line x1="227" y1="233.3" x2="345.2" y2="274.43"/>
</g>
<g stroke="#ff00ff">
<line x1="249.7" y1="217" x2="391.33" y2="263.06"/>
<line x1="248.04" y1="217.45" x2="389.76" y2="263.45"/>
<line x1="246.39" y1="217.91" x2="388.24" y2="263.82"/>
<line x1="244.73" y1="218.36" x2="386.67" y2="264.21"/>
<line x1="243.07" y1="218.81" x2="385.16" y2="264.58"/>
<line x1="241.41" y1="219.26" x2="382.49" y2="265.24"/>
<line x1="239.76" y1="219.72" x2="379.61" y2="265.95"/>
<line x1="238.1" y1="220.17" x2="376.41" y2="266.74"/>
<line x1="236.53" y1="220.6" x2="372.61" y2="267.68"/>
<line x1="234.72" y1="221.09" x2="368.37" y2="268.72"/>
<line x1="232.9" y1="221.59" x2="364.05" y2="269.78"/>
<line x1="231.09" y1="222.08" x2="359.37" y2="270.94"/>
<line x1="227" y1="223.2" x2="353.17" y2="272.47"/>
</g>
<g stroke="#00ff00">
<line x1="235.2" y1="216.3" x2="364.87" y2="269.58"/>
<line x1="234.42" y1="216.67" x2="363.96" y2="269.81"/>
<line x1="233.64" y1="217.05" x2="363.06" y2="270.03"/>
<line x1="232.86" y1="217.42" x2="362.04" y2="270.28"/>
<line x1="232.08" y1="217.8" x2="361.13" y2="270.5"/>
<line x1="231.22" y1="218.2" x2="358.92" y2="271.05"/>
<line x1="230.44" y1="218.58" x2="358.02" y2="271.27"/>
<line x1="229.66" y1="218.95" x2="356.39" y2="271.67"/>
<line x1="228.88" y1="219.33" x2="355.48" y2="271.9"/>
<line x1="228.1" y1="219.7" x2="353.85" y2="272.3"/>
</g>
<g stroke="#00ff00">
<line x1="364.87" y1="269.58" x2="746.5" y2="426.4"/>
<line x1="363.96" y1="269.81" x2="746.14" y2="426.55"/>
<line x1="363.06" y1="270.03" x2="745.78" y2="426.71"/>
<line x1="362.04" y1="270.28" x2="745.06" y2="427.01"/>
<line x1="361.13" y1="270.5" x2="744.7" y2="427.16"/>
<line x1="358.92" y1="271.05" x2="740.5" y2="428.95"/>
<line x1="358.02" y1="271.27" x2="740.14" y2="429.1"/>
<line x1="356.39" y1="271.67" x2="737.5" y2="430.23"/>
<line x1="355.48" y1="271.9" x2="737.14" y2="430.38"/>
<line x1="353.85" y1="272.3" x2="734.5" y2="431.5"/>
</g>
<g stroke="#ff00ff">
<line x1="391.33" y1="263.06" x2="785.9" y2="391.4"/>
<line x1="389.76" y1="263.45" x2="784.9" y2="391.7"/>
<line x1="388.24" y1="263.82" x2="783.9" y2="391.9"/>
<line x1="386.67" y1="264.21" x2="782.9" y2="392.2"/>
<line x1="385.16" y1="264.58" x2="781.9" y2="392.4"/>
<line x1="382.49" y1="265.24" x2="778.8" y2="394.4"/>
<line x1="379.61" y1="265.95" x2="774.8" y2="396.6"/>
<line x1="376.41" y1="266.74" x2="770.7" y2="399.5"/>
<line x1="372.61" y1="267.68" x2="764.6" y2="403.3"/>
<line x1="368.37" y1="268.72" x2="757.5" y2="407.4"/>
<line x1="364.05" y1="269.78" x2="749.7" y2="411.5"/>
<line x1="359.37" y1="270.94" x2="740.8" y2="416.2"/>
<line x1="353.17" y1="272.47" x2="731" y2="420"/>
</g>
<g stroke="#ffff00">
<line x1="396.12" y1="261.88" x2="783.8" y2="358.6"/>
<line x1="392.27" y1="262.83" x2="778.6" y2="361.8"/>
<line x1="387.34" y1="264.05" x2="772" y2="366"/>
<line x1="382.01" y1="265.36" x2="764.8" y2="370.6"/>
<line x1="376.59" y1="266.69" x2="757.7" y2="375.5"/>
<line x1="371.33" y1="267.99" x2="749.8" y2="379.8"/>
<line x1="365.05" y1="269.54" x2="740.6" y2="385.2"/>
<line x1="358.86" y1="271.06" x2="731.3" y2="390.5"/>
<line x1="352.35" y1="272.67" x2="719.8" y2="395.1"/>
<line x1="345.2" y1="274.43" x2="707.5" y2="400.5"/>
</g>
<g stroke="#00ffff">
<line x1="393.59" y1="262.51" x2="762" y2="330.2"/>
<line x1="389.2" y1="263.59" x2="757.7" y2="334.2"/>
<line x1="384.52" y1="264.74" x2="750.8" y2="337.6"/>
<line x1="379.89" y1="265.88" x2="744.8" y2="341.4"/>
<line x1="374.63" y1="267.18" x2="737.5" y2="345.6"/>
<line x1="369.04" y1="268.56" x2="729.8" y2="350.2"/>
<line x1="362.79" y1="270.1" x2="720.6" y2="355.2"/>
<line x1="356.16" y1="271.73" x2="710.2" y2="360.3"/>
<line x1="349.47" y1="273.38" x2="699.5" y2="365.5"/>
<line x1="342.43" y1="275.11" x2="688" y2="371"/>
</g>
<g stroke="#ff0000">
<line x1="403.28" y1="260.12" x2="687" y2="228.8"/>
<line x1="394.26" y1="262.34" x2="682" y2="232.5"/>
<line x1="385.51" y1="264.5" x2="676" y2="236.3"/>
<line x1="377.54" y1="266.46" x2="667.8" y2="239.8"/>
<line x1="368.75" y1="268.63" x2="660.8" y2="244"/>
<line x1="359.89" y1="270.81" x2="651.7" y2="248.3"/>
<line x1="351.9" y1="272.78" x2="642.8" y2="252.3"/>
<line x1="343.79" y1="274.78" x2="632.7" y2="256.4"/>
<line x1="335.86" y1="276.73" x2="622.9" y2="260.6"/>
<line x1="328.91" y1="278.44" x2="613" y2="264.2"/>
</g>
<g stroke="#00ff00">
<line x1="393.66" y1="262.49" x2="715.9" y2="261.2"/>
<line x1="388.35" y1="263.8" x2="712" y2="264.6"/>
<line x1="383.72" y1="264.94" x2="706.7" y2="267.3"/>
<line x1="377.71" y1="266.42" x2="701.3" y2="271.2"/>
<line x1="372.88" y1="267.61" x2="695.9" y2="274.2"/>
<line x1="366.35" y1="269.22" x2="688.7" y2="278.4"/>
<line x1="360.12" y1="270.75" x2="680.6" y2="282.2"/>
<line x1="353.39" y1="272.41" x2="672.1" y2="286.5"/>
<line x1="347.07" y1="273.97" x2="663" y2="290.3"/>
<line x1="339.22" y1="275.9" x2="653" y2="295.6"/>
</g>
<g stroke="#000000">
<line x1="394.17" y1="262.36" x2="744.2" y2="293.4"/>
<line x1="390.54" y1="263.26" x2="740.4" y2="296"/>
<line x1="384.89" y1="264.65" x2="735" y2="300.3"/>
<line x1="379.28" y1="266.03" x2="727.8" y2="304.1"/>
<line x1="372.51" y1="267.7" x2="720.8" y2="309.4"/>
<line x1="366.69" y1="269.13" x2="713.6" y2="313.7"/>
<line x1="360.22" y1="270.73" x2="704.8" y2="318.3"/>
<line x1="354.41" y1="272.16" x2="695.9" y2="322.1"/>
<line x1="348.62" y1="273.59" x2="687.5" y2="326.2"/>
<line x1="342.39" y1="275.12" x2="678" y2="330.5"/>
</g>
<g stroke="#ff00ff">
<line x1="540" y1="311.42" x2="785.9" y2="391.4"/>
<line x1="540" y1="312.21" x2="784.9" y2="391.7"/>
<line x1="540" y1="312.95" x2="783.9" y2="391.9"/>
<line x1="540" y1="313.74" x2="782.9" y2="392.2"/>
<line x1="540" y1="314.47" x2="781.9" y2="392.4"/>
</g>
<g stroke="#ffff00">
<line x1="540" y1="323.42" x2="740.6" y2="385.2"/>
<line x1="540" y1="329.15" x2="731.3" y2="390.5"/>
<line x1="540" y1="335.19" x2="719.8" y2="395.1"/>
<line x1="540" y1="342.21" x2="707.5" y2="400.5"/>
</g>
<g stroke="#0000ff">
<line x1="351" y1="270.22" x2="648.9" y2="200.2"/>
<line x1="351" y1="270.65" x2="645" y2="202.5"/>
<line x1="351" y1="271.1" x2="641" y2="204.8"/>
<line x1="351" y1="271.38" x2="637.3" y2="206.3"/>
<line x1="351" y1="271.67" x2="633.6" y2="207.8"/>
<line x1="351" y1="272.35" x2="624.7" y2="211.2"/>
<line x1="351" y1="273.17" x2="615.9" y2="215.1"/>
<line x1="351" y1="274.12" x2="606" y2="219.4"/>
<line x1="351" y1="274.53" x2="598.6" y2="221.4"/>
<line x1="351" y1="274.91" x2="591.2" y2="223.3"/>
</g>
</g>
<g class="ax">
<line x1="261.67" y1="371.9" x2="272.86" y2="373.35"/>
<line x1="261.67" y1="210.9" x2="272.86" y2="212.35"/>
<line x1="261.67" y1="371.9" x2="261.67" y2="210.9"/>
<line x1="272.86" y1="373.35" x2="272.86" y2="212.35"/>
<line x1="261.67" y1="371.9" x2="391.31" y2="321.4"/>
<line x1="261.67" y1="210.9" x2="391.31" y2="160.4"/>
<line x1="272.86" y1="373.35" x2="402.5" y2="322.85"/>
<line x1="272.86" y1="212.35" x2="402.5" y2="161.85"/>
</g>
<g class="ring">
<polygon points="343.3,252.4 354.49,253.85 351.92,248.57 340.72,247.12"/>
<polygon points="315.37,288.48 326.56,289.93 331.62,291.16 320.43,289.71"/>
<polygon points="340.72,247.12 351.92,248.57 347.9,245.15 336.71,243.7"/>
<polygon points="311.36,285.06 322.55,286.51 326.56,289.93 315.37,288.48"/>
<polygon points="336.71,243.7 347.9,245.15 342.84,243.92 331.65,242.47"/>
<polygon points="308.78,279.78 319.97,281.23 322.55,286.51 311.36,285.06"/>
<polygon points="331.65,242.47 342.84,243.92 337.23,245 326.04,243.55"/>
<polygon points="307.89,273.16 319.08,274.61 319.97,281.23 308.78,279.78"/>
<polygon points="326.04,243.55 337.23,245 331.62,248.29 320.43,246.84"/>
<polygon points="308.78,265.85 319.97,267.3 319.08,274.61 307.89,273.16"/>
<polygon points="320.43,246.84 331.62,248.29 326.56,253.46 315.37,252.01"/>
<polygon points="311.36,258.56 322.55,260.01 319.97,267.3 308.78,265.85"/>
<polygon points="315.37,252.01 326.56,253.46 322.55,260.01 311.36,258.56"/>
</g>
<g class="tx">
<text x="470.2" y="28.6" text-anchor="middle">Trajectories out of th chamber without sweeping (30kV)</text>
<text x="102.8" y="469.5" text-anchor="end">-40</text>
<text x="102.8" y="429.25" text-anchor="end">-30</text>
<text x="102.8" y="389" text-anchor="end">-20</text>
<text x="102.8" y="348.75" text-anchor="end">-10</text>
<text x="102.8" y="308.5" text-anchor="end">0</text>
<text x="102.8" y="268.25" text-anchor="end">10</text>
<text x="102.8" y="228" text-anchor="end">20</text>
<text x="102.8" y="187.75" text-anchor="end">30</text>
<text x="102.8" y="147.5" text-anchor="end">40</text>
<text x="103.6" y="484.6" text-anchor="end">-50</text>
<text x="215.53" y="499.1" text-anchor="end">0</text>
<text x="327.45" y="513.6" text-anchor="end">50</text>
<text x="439.38" y="528.1" text-anchor="end">100</text>
<text x="551.3" y="542.6" text-anchor="end">150</text>
<text x="580.7" y="539.6">-40</text>
<text x="645.52" y="514.35">-20</text>
<text x="710.34" y="489.1">0</text>
<text x="775.16" y="463.85">20</text>
<text x="839.98" y="438.6">40</text>
<text x="378.8" y="583.5" text-anchor="middle">X axis (cm)</text>
<text x="747.9" y="555.2" text-anchor="middle">Y axis (cm)</text>
<text transform="translate(74.5,307) rotate(-90)" text-anchor="middle">Z axis (cm)</text>
</g>
</g>
</svg></body></html>
